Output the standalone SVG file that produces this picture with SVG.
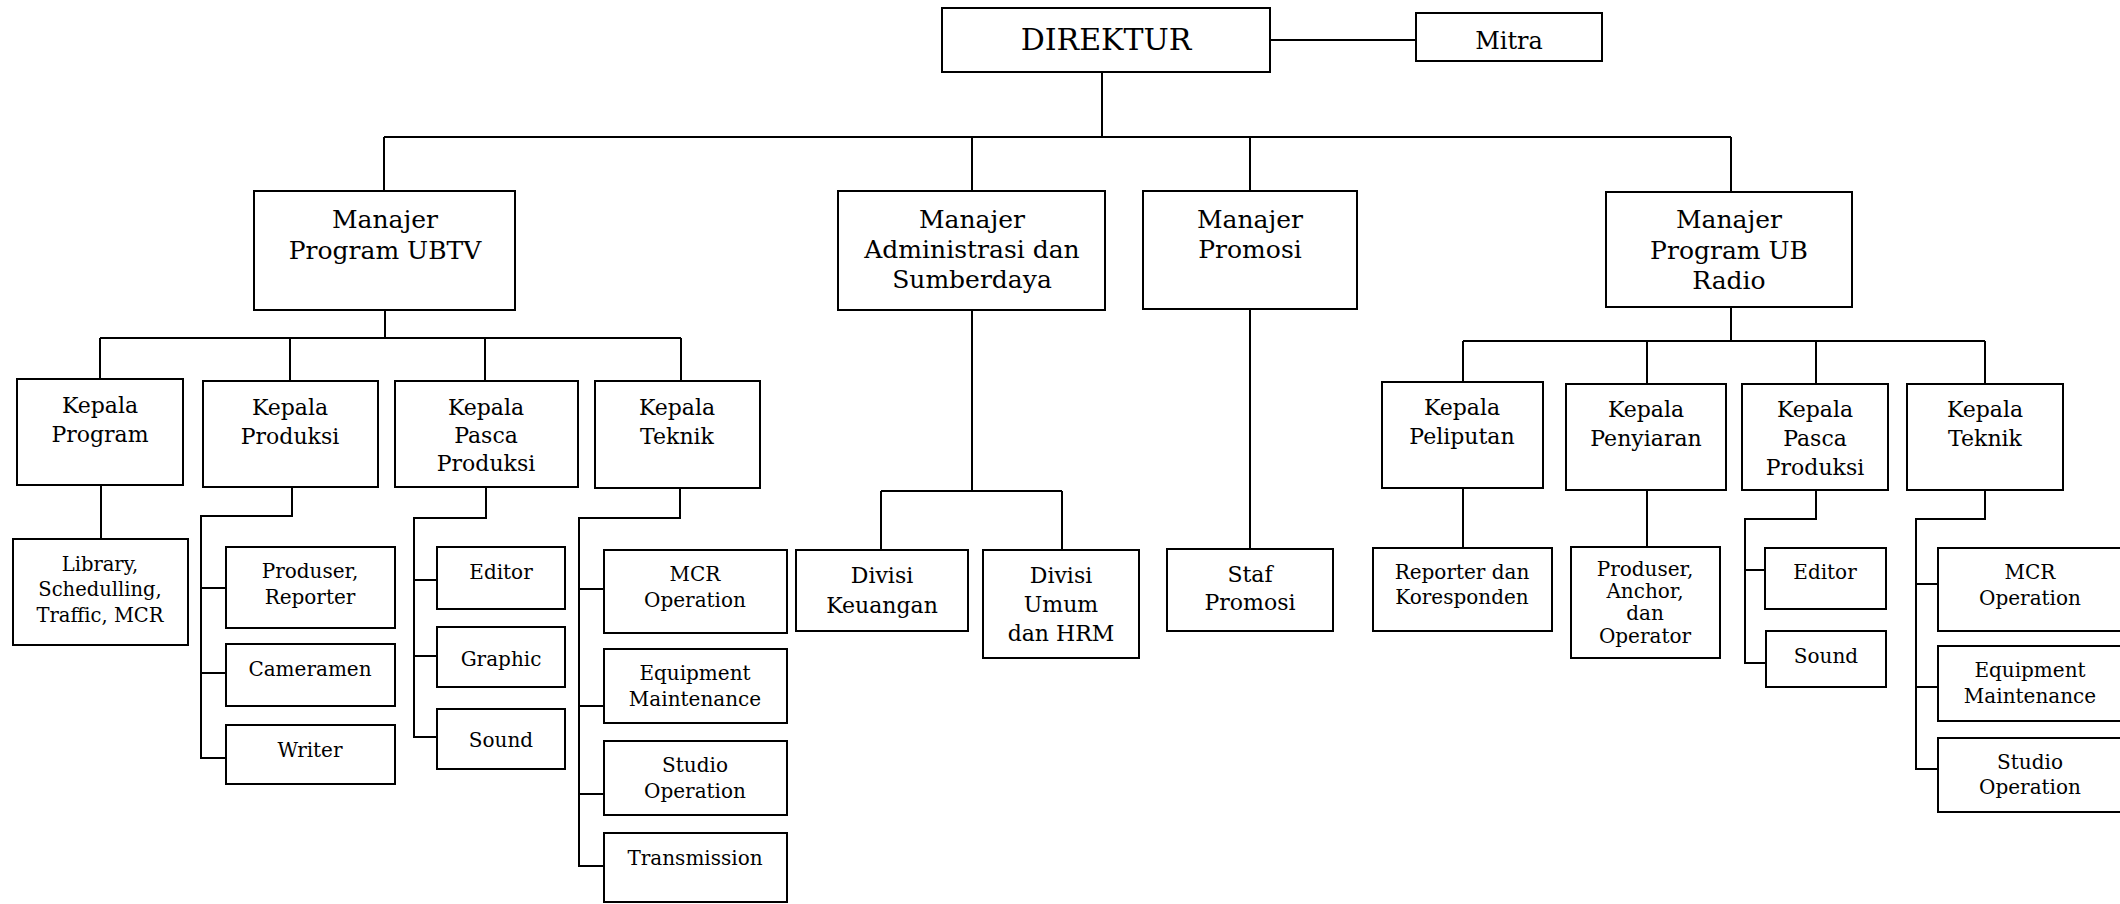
<svg xmlns="http://www.w3.org/2000/svg" width="2120" height="904" viewBox="0 0 2120 904">
<style>
.bg{fill:#fff}
.box{fill:#fff;stroke:#000;stroke-width:2}
.ln{fill:none;stroke:#000;stroke-width:2}
text{font-family:"DejaVu Serif","Liberation Serif",serif;fill:#000;text-anchor:middle}
.t30{font-size:30px}
.t25{font-size:25px}
.t24{font-size:24px}
.t22{font-size:22px}
.t20{font-size:20px}
.t19{font-size:19.5px}
</style>
<rect class="bg" x="0" y="0" width="2120" height="904"/>
<g id="connectors">
<path class="ln" d="M1270,40 H1416"/>
<path class="ln" d="M1102,72 V137 M384,137 H1731 M384,137 V191 M972,137 V191 M1250,137 V191 M1731,137 V192"/>
<path class="ln" d="M385,310 V338 M100,338 H681 M100,338 V379 M290,338 V381 M485,338 V381 M681,338 V381"/>
<path class="ln" d="M972,310 V491 M881,491 H1062 M881,491 V550 M1062,491 V550"/>
<path class="ln" d="M1250,309 V549"/>
<path class="ln" d="M1731,307 V341 M1463,341 H1985 M1463,341 V382 M1647,341 V384 M1816,341 V384 M1985,341 V384"/>
<path class="ln" d="M101,485 V539"/>
<path class="ln" d="M292,487 V516 H201 V758 H226 M201,588 H226 M201,673 H226"/>
<path class="ln" d="M486,487 V518 H414 V737 H437 M414,580 H437 M414,656 H437"/>
<path class="ln" d="M680,488 V518 H579 V866 H604 M579,589 H604 M579,706 H604 M579,794 H604"/>
<path class="ln" d="M1463,488 V548"/>
<path class="ln" d="M1647,490 V547"/>
<path class="ln" d="M1816,490 V519 H1745 V663 H1766 M1745,570 H1765"/>
<path class="ln" d="M1985,490 V519 H1916 V769 H1938 M1916,584 H1938 M1916,687 H1938"/>
</g>
<g id="direktur"><rect class="box" x="942" y="8" width="328" height="64"/><text class="t30" x="1106" y="50">DIREKTUR</text></g>
<g id="mitra"><rect class="box" x="1416" y="13" width="186" height="48"/><text class="t24" x="1509" y="49">Mitra</text></g>
<g id="mgr-ubtv"><rect class="box" x="254" y="191" width="261" height="119"/><text class="t25" x="385" y="228">Manajer</text><text class="t25" x="385" y="259">Program UBTV</text></g>
<g id="mgr-admin"><rect class="box" x="838" y="191" width="267" height="119"/><text class="t25" x="972" y="228">Manajer</text><text class="t25" x="972" y="258">Administrasi dan</text><text class="t25" x="972" y="288">Sumberdaya</text></g>
<g id="mgr-promosi"><rect class="box" x="1143" y="191" width="214" height="118"/><text class="t25" x="1250" y="228">Manajer</text><text class="t25" x="1250" y="258">Promosi</text></g>
<g id="mgr-radio"><rect class="box" x="1606" y="192" width="246" height="115"/><text class="t25" x="1729" y="228">Manajer</text><text class="t25" x="1729" y="259">Program UB</text><text class="t25" x="1729" y="289">Radio</text></g>
<g id="kp-program"><rect class="box" x="17" y="379" width="166" height="106"/><text class="t22" x="100" y="413">Kepala</text><text class="t22" x="100" y="442">Program</text></g>
<g id="kp-produksi"><rect class="box" x="203" y="381" width="175" height="106"/><text class="t22" x="290" y="415">Kepala</text><text class="t22" x="290" y="444">Produksi</text></g>
<g id="kp-pasca"><rect class="box" x="395" y="381" width="183" height="106"/><text class="t22" x="486" y="415">Kepala</text><text class="t22" x="486" y="443">Pasca</text><text class="t22" x="486" y="471">Produksi</text></g>
<g id="kp-teknik"><rect class="box" x="595" y="381" width="165" height="107"/><text class="t22" x="677" y="415">Kepala</text><text class="t22" x="677" y="444">Teknik</text></g>
<g id="kp-peliputan"><rect class="box" x="1382" y="382" width="161" height="106"/><text class="t22" x="1462" y="415">Kepala</text><text class="t22" x="1462" y="444">Peliputan</text></g>
<g id="kp-penyiaran"><rect class="box" x="1566" y="384" width="160" height="106"/><text class="t22" x="1646" y="417">Kepala</text><text class="t22" x="1646" y="446">Penyiaran</text></g>
<g id="kp-pasca-radio"><rect class="box" x="1742" y="384" width="146" height="106"/><text class="t22" x="1815" y="417">Kepala</text><text class="t22" x="1815" y="446">Pasca</text><text class="t22" x="1815" y="475">Produksi</text></g>
<g id="kp-teknik-radio"><rect class="box" x="1907" y="384" width="156" height="106"/><text class="t22" x="1985" y="417">Kepala</text><text class="t22" x="1985" y="446">Teknik</text></g>
<g id="library"><rect class="box" x="13" y="539" width="175" height="106"/><text class="t19" x="100" y="571">Library,</text><text class="t19" x="100" y="596">Schedulling,</text><text class="t19" x="100" y="622">Traffic, MCR</text></g>
<g id="produser-reporter"><rect class="box" x="226" y="547" width="169" height="81"/><text class="t20" x="310" y="578">Produser,</text><text class="t20" x="310" y="604">Reporter</text></g>
<g id="cameramen"><rect class="box" x="226" y="644" width="169" height="62"/><text class="t20" x="310" y="676">Cameramen</text></g>
<g id="writer"><rect class="box" x="226" y="725" width="169" height="59"/><text class="t20" x="310" y="757">Writer</text></g>
<g id="editor-tv"><rect class="box" x="437" y="547" width="128" height="62"/><text class="t20" x="501" y="579">Editor</text></g>
<g id="graphic-tv"><rect class="box" x="437" y="627" width="128" height="60"/><text class="t20" x="501" y="666">Graphic</text></g>
<g id="sound-tv"><rect class="box" x="437" y="709" width="128" height="60"/><text class="t20" x="501" y="747">Sound</text></g>
<g id="mcr-tv"><rect class="box" x="604" y="550" width="183" height="83"/><text class="t20" x="695" y="581">MCR</text><text class="t20" x="695" y="607">Operation</text></g>
<g id="equip-tv"><rect class="box" x="604" y="649" width="183" height="74"/><text class="t20" x="695" y="680">Equipment</text><text class="t20" x="695" y="706">Maintenance</text></g>
<g id="studio-tv"><rect class="box" x="604" y="741" width="183" height="74"/><text class="t20" x="695" y="772">Studio</text><text class="t20" x="695" y="798">Operation</text></g>
<g id="transmission"><rect class="box" x="604" y="833" width="183" height="69"/><text class="t20" x="695" y="865">Transmission</text></g>
<g id="div-keuangan"><rect class="box" x="796" y="550" width="172" height="81"/><text class="t22" x="882" y="583">Divisi</text><text class="t22" x="882" y="613">Keuangan</text></g>
<g id="div-umum"><rect class="box" x="983" y="550" width="156" height="108"/><text class="t22" x="1061" y="583">Divisi</text><text class="t22" x="1061" y="612">Umum</text><text class="t22" x="1061" y="641">dan HRM</text></g>
<g id="staf-promosi"><rect class="box" x="1167" y="549" width="166" height="82"/><text class="t22" x="1250" y="582">Staf</text><text class="t22" x="1250" y="610">Promosi</text></g>
<g id="reporter-koresponden"><rect class="box" x="1373" y="548" width="179" height="83"/><text class="t20" x="1462" y="579">Reporter dan</text><text class="t20" x="1462" y="604">Koresponden</text></g>
<g id="produser-anchor"><rect class="box" x="1571" y="547" width="149" height="111"/><text class="t20" x="1645" y="576">Produser,</text><text class="t20" x="1645" y="598">Anchor,</text><text class="t20" x="1645" y="620">dan</text><text class="t20" x="1645" y="643">Operator</text></g>
<g id="editor-radio"><rect class="box" x="1765" y="548" width="121" height="61"/><text class="t20" x="1825" y="579">Editor</text></g>
<g id="sound-radio"><rect class="box" x="1766" y="631" width="120" height="56"/><text class="t20" x="1826" y="663">Sound</text></g>
<g id="mcr-radio"><rect class="box" x="1938" y="548" width="200" height="83"/><text class="t20" x="2030" y="579">MCR</text><text class="t20" x="2030" y="605">Operation</text></g>
<g id="equip-radio"><rect class="box" x="1938" y="646" width="200" height="75"/><text class="t20" x="2030" y="677">Equipment</text><text class="t20" x="2030" y="703">Maintenance</text></g>
<g id="studio-radio"><rect class="box" x="1938" y="738" width="200" height="74"/><text class="t20" x="2030" y="769">Studio</text><text class="t20" x="2030" y="794">Operation</text></g>
</svg>
